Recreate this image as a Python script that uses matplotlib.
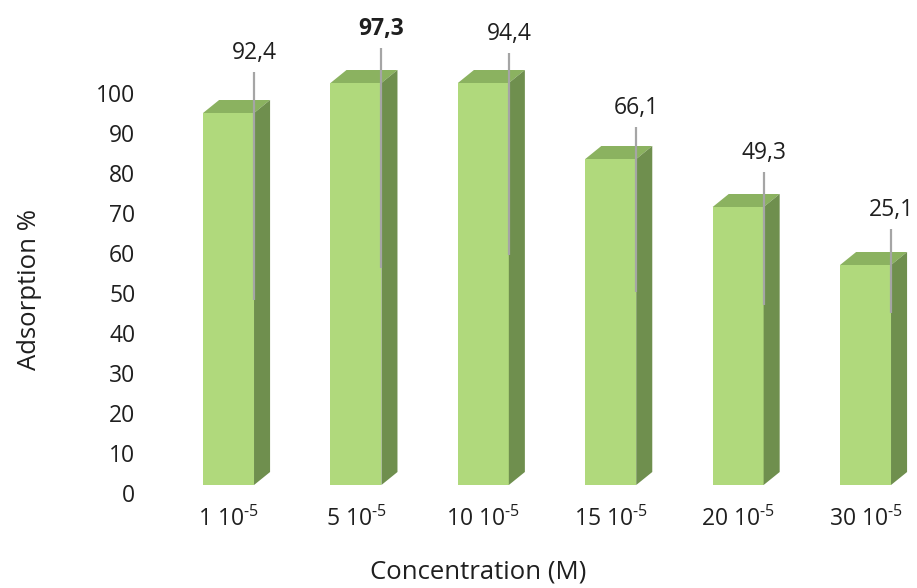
import matplotlib
matplotlib.use("Agg")
import matplotlib.pyplot as plt
from matplotlib.patches import Polygon

plt.rcParams["font.family"] = ["Open Sans", "DejaVu Sans"]
plt.rcParams["mathtext.fontset"] = "custom"
plt.rcParams["mathtext.rm"] = "Open Sans"
plt.rcParams["mathtext.it"] = "Open Sans:italic"
plt.rcParams["mathtext.bf"] = "Open Sans:bold"

# Data
categories = [r"1 10$^{\text{-5}}$", r"5 10$^{\text{-5}}$", r"10 10$^{\text{-5}}$",
              r"15 10$^{\text{-5}}$", r"20 10$^{\text{-5}}$", r"30 10$^{\text{-5}}$"]
bar_values = [95.0, 102.5, 102.5, 83.5, 71.5, 57.0]
err_low = [48.25, 56.25, 59.5, 50.25, 47.0, 45.0]
err_high = [105.25, 111.25, 110.0, 91.5, 80.25, 66.0]
value_labels = ["92,4", "97,3", "94,4", "66,1", "49,3", "25,1"]
bold_labels = [False, True, False, False, False, False]
y_ticks = [0, 10, 20, 30, 40, 50, 60, 70, 80, 90, 100]

# Pseudo-3D column geometry
floor = 2.0
half_w = 0.2
depth_x = 0.126
depth_y = 3.25
front_col = "#b0d97c"
top_col = "#8bb260"
side_col = "#6f8f4e"
text_col = "#1f1f1f"

fig = plt.figure(figsize=(9.17, 5.88), dpi=100)
ax = fig.add_axes([152.1 / 917, 95 / 588, 764.4 / 917, 480 / 588])
ax.set_xlim(-0.6, 5.4)
ax.set_ylim(0, 120)

xs = list(range(len(categories)))
for x, v in zip(xs, bar_values):
    x0, x1 = x - half_w, x + half_w
    ax.bar(x, v - floor, bottom=floor, width=2 * half_w, color=front_col,
           edgecolor="none", zorder=2)
    top = Polygon([(x0, v), (x1, v), (x1 + depth_x, v + depth_y),
                   (x0 + depth_x, v + depth_y)], closed=True,
                  facecolor=top_col, edgecolor="none", zorder=2)
    side = Polygon([(x1, floor), (x1, v), (x1 + depth_x, v + depth_y),
                    (x1 + depth_x, floor + depth_y)], closed=True,
                   facecolor=side_col, edgecolor="none", zorder=2)
    ax.add_patch(top)
    ax.add_patch(side)

err_x = [x + half_w for x in xs]
ax.vlines(err_x, err_low, err_high, colors="#a5a5a5", linewidth=1.6, zorder=3)

for x, hi, lab, b in zip(err_x, err_high, value_labels, bold_labels):
    ax.annotate(lab, (x, hi), xytext=(0, 5), textcoords="offset points",
                ha="center", va="bottom", fontsize=16.5, color=text_col,
                fontweight="bold" if b else "normal", annotation_clip=False)

ax.set_xticks(xs)
ax.set_xticklabels(categories, fontsize=16.5, color=text_col)
ax.set_yticks(y_ticks)
ax.set_yticklabels([str(t) for t in y_ticks], fontsize=16.5, color=text_col)
ax.tick_params(axis="both", length=0)
ax.tick_params(axis="y", pad=12)
ax.tick_params(axis="x", pad=10)
for s in ax.spines.values():
    s.set_visible(False)

ax.set_ylabel("Adsorption %", fontsize=18.5, color=text_col)
ax.set_xlabel("Concentration (M)", fontsize=18.5, color=text_col)
ax.yaxis.set_label_coords(-0.144, 0.423)
ax.xaxis.set_label_coords(0.426, -0.138)

fig.savefig("out.png", dpi=100)
